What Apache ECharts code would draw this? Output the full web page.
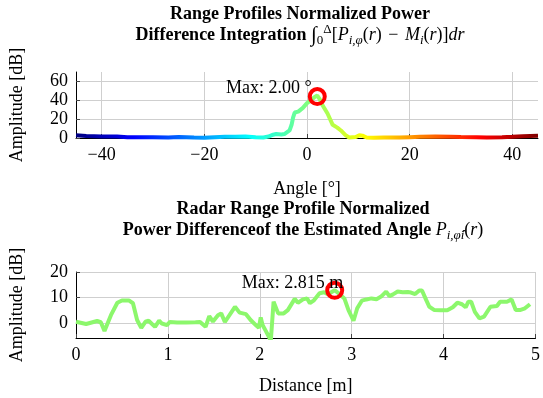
<!DOCTYPE html>
<html>
<head>
<meta charset="utf-8">
<script src="https://cdn.jsdelivr.net/npm/echarts@6/dist/echarts.min.js"></script>
<style>
  html, body { margin: 0; padding: 0; background: #fff; }
  #chart { width: 543px; height: 398px; }
</style>
</head>
<body>
<div id="chart"></div>
<script>
// top panel: integrated power difference vs. angle
const angles = [-45, -43, -40, -37, -35, -32, -30, -27, -25, -22, -20, -18, -16, -14, -12, -10, -8.5, -7.5, -6.6, -6, -5, -4.4, -3.4, -3, -2.7, -2.4, -1.7, -0.8, 0, 1, 1.5, 2, 2.5, 3, 4, 5, 5.9, 6.6, 7.5, 8.2, 9.5, 10.2, 10.8, 11.6, 13, 15, 18, 20, 22, 25, 28, 30, 33, 35, 38, 40, 42, 45]
const angleAmp = [2.8, 2.2, 1.6, 1.5, 0.9, 0.7, 0.8, 0.5, 1.0, 0.5, 0.3, 0.9, 1.3, 1.2, 1.5, 0.8, 0.6, 1.5, 3.5, 4.2, 3.8, 4.2, 8, 14, 22, 27, 28, 32, 37, 41, 43.5, 45, 41, 35, 26, 14, 11, 8, 3, 0.5, 1, 3, 2.5, 0.5, 0.3, 0.6, 0.5, 0.9, 1.3, 1.6, 1.4, 1.1, 0.8, 0.6, 0.9, 1.3, 1.9, 2.4]
const angleMax = [2, 44]

// bottom panel: range profile at the estimated angle
const dist = [0, 0.11, 0.23, 0.27, 0.31, 0.38, 0.45, 0.5, 0.575, 0.62, 0.665, 0.71, 0.755, 0.79, 0.86, 0.905, 0.935, 0.99, 1.02, 1.1, 1.2, 1.3, 1.35, 1.41, 1.45, 1.49, 1.545, 1.58, 1.62, 1.73, 1.78, 1.85, 1.9, 1.965, 1.99, 2.01, 2.03, 2.065, 2.12, 2.15, 2.2, 2.26, 2.305, 2.38, 2.415, 2.47, 2.515, 2.545, 2.585, 2.65, 2.7, 2.74, 2.815, 2.855, 2.92, 2.965, 3.02, 3.06, 3.11, 3.16, 3.215, 3.27, 3.32, 3.375, 3.41, 3.45, 3.5, 3.555, 3.61, 3.645, 3.69, 3.735, 3.765, 3.81, 3.845, 3.9, 3.97, 4.04, 4.1, 4.15, 4.2, 4.24, 4.27, 4.3, 4.34, 4.39, 4.44, 4.51, 4.58, 4.615, 4.69, 4.74, 4.785, 4.83, 4.885, 4.94]
const distAmp = [0.4, -0.5, 0.7, 0.2, -3.2, 3, 7.9, 8.8, 8.8, 7.7, 1.1, -2, 0.4, 0.8, -1.6, 0.8, -0.3, -0.9, 0.3, 0.1, 0.1, 0.2, 0.3, -1.6, 2.6, 0.5, 3, 3.7, 0.3, 6.3, 4, 3.4, 1.1, -1.2, -2, 2.1, -0.9, -3.2, -7, 8.3, 3.7, 3.7, 5, 9.4, 7.9, 9.2, 9.6, 7.7, 8.7, 11.6, 12, 11.2, 12.8, 11.7, 9.6, 5, 0.8, 5.7, 8.7, 9.2, 9.6, 9.3, 10.3, 12.3, 10.5, 11.2, 12.3, 12, 12.1, 11.9, 11.3, 12.7, 12.7, 9, 6.3, 5, 4.9, 4.9, 6.1, 7.9, 7.3, 6.1, 8.3, 8.3, 4.3, 1.7, 2.4, 6.3, 6.6, 8.3, 8.3, 9.2, 5, 5, 5.7, 7.3]
const distMax = [2.815, 12.8]

const jet = ['#00007f', '#0000ff', '#007fff', '#00ffff', '#7fff7f', '#ffff00', '#ff7f00', '#ff0000', '#7f0000']
const serif = '"Liberation Serif", "DejaVu Serif", serif'
const fs = 18

function pairs(xs, ys) {
  return xs.map((x, i) => [x, ys[i]])
}
function minus(v) {
  return String(v).replace('-', '\u2212')
}
function labelOpt(extra) {
  return Object.assign({ color: '#000', fontFamily: serif, fontSize: fs, margin: 8, formatter: minus }, extra)
}
function gridLines(extra) {
  return Object.assign({ show: true, lineStyle: { color: '#cfcfcf', width: 1 } }, extra)
}

function xAxisOpt(grid, min, max, extra) {
  return Object.assign({
    type: 'value', gridIndex: grid, min: min, max: max,
    nameLocation: 'middle',
    nameTextStyle: { fontFamily: serif, fontSize: fs, color: '#000' },
    axisLine: { onZero: false, lineStyle: { color: '#000', width: 1 } },
    axisTick: { inside: true, length: 4, lineStyle: { color: '#444' } },
    splitLine: gridLines({}),
    axisLabel: labelOpt({})
  }, extra)
}
function yAxisOpt(grid, min, max, extra) {
  return Object.assign({
    type: 'value', gridIndex: grid, min: min, max: max,
    name: 'Amplitude [dB]', nameLocation: 'middle', nameGap: 50,
    nameTextStyle: { fontFamily: serif, fontSize: fs, color: '#000' },
    axisLine: { show: true, onZero: false, lineStyle: { color: '#000', width: 1 } },
    axisTick: { show: true, inside: true, length: 4, lineStyle: { color: '#444' } },
    splitLine: gridLines({ showMinLine: false }),
    axisLabel: labelOpt({})
  }, extra)
}

const mathRich = {
  b: { fontFamily: serif, fontWeight: 'bold', fontSize: fs, lineHeight: 24 },
  n: { fontFamily: serif, fontSize: fs, lineHeight: 24 },
  i: { fontFamily: serif, fontStyle: 'italic', fontSize: fs, lineHeight: 24 },
  big: { fontFamily: serif, fontSize: 21, lineHeight: 24 },
  sp: { fontFamily: serif, fontSize: 8, lineHeight: 24 },
  sub: { fontFamily: serif, fontStyle: 'italic', fontSize: 13, lineHeight: 12, verticalAlign: 'bottom' },
  subn: { fontFamily: serif, fontSize: 13, lineHeight: 12, verticalAlign: 'bottom' },
  sup: { fontFamily: serif, fontSize: 13, lineHeight: 12, verticalAlign: 'top' }
}

function titleText(x, y, text) {
  return {
    type: 'text', x: x, y: y, silent: true,
    style: { text: text, align: 'center', verticalAlign: 'middle', fill: '#000', rich: mathRich,
      font: 'bold ' + fs + 'px ' + serif }
  }
}

const markStyle = {
  symbol: 'circle', symbolSize: 15,
  itemStyle: { color: 'rgba(0,0,0,0)', borderColor: '#ff0000', borderWidth: 4 }
}

let myChart = echarts.init(document.getElementById('chart'), null, { renderer: 'canvas' })
let option = {
  animation: false,
  backgroundColor: '#fff',
  graphic: [
    titleText(300, 14, '{b|Range Profiles Normalized Power}'),
    titleText(300, 35, '{b|Difference Integration }{big|\u222B}{subn|0}{sup|\u0394}{n|[}{i|P}{sub|i,\u03C6}{n|(}{i|r}{n|)}{sp| }{n| \u2212 }{sp| }{i|M}{sub|i}{n|(}{i|r}{n|)]}{i|dr}'),
    titleText(303, 209, '{b|Radar Range Profile Normalized}'),
    titleText(303, 230, '{b|Power Differenceof the Estimated Angle }{i|P}{sub|i,\u03C6\u0302}{sub|i}{n|(}{i|r}{n|)}')
  ],
  grid: [
    { left: 73, right: 5, top: 72, height: 66 },
    { left: 73, right: 5, top: 272, height: 66 }
  ],
  visualMap: [{
    type: 'continuous', show: false, seriesIndex: 0, dimension: 0,
    min: -45, max: 45, inRange: { color: jet }
  }],
  xAxis: [
    xAxisOpt(0, -45, 45, {
      splitNumber: 5, name: 'Angle [\u00B0]', nameGap: 42,
      splitLine: gridLines({ showMinLine: false, showMaxLine: false }),
      axisLabel: labelOpt({ showMinLabel: false, showMaxLabel: false })
    }),
    xAxisOpt(1, 0, 5, { interval: 1, name: 'Distance [m]', nameGap: 39 })
  ],
  yAxis: [
    yAxisOpt(0, 0, 70, {
      interval: 20,
      splitLine: gridLines({ showMinLine: false, showMaxLine: false }),
      axisLabel: labelOpt({ showMaxLabel: false })
    }),
    yAxisOpt(1, -6, 20, {
      splitNumber: 3,
      axisLabel: labelOpt({ showMinLabel: false })
    })
  ],
  series: [
    {
      type: 'line', xAxisIndex: 0, yAxisIndex: 0,
      data: pairs(angles, angleAmp),
      showSymbol: false, lineStyle: { width: 4 },
      markPoint: Object.assign({}, markStyle, {
        label: { show: true, formatter: 'Max: 2.00 \u00B0', position: [4, 1], align: 'right', verticalAlign: 'middle',
          color: '#000', fontFamily: serif, fontSize: fs },
        data: [{ coord: angleMax }]
      })
    },
    {
      type: 'line', xAxisIndex: 1, yAxisIndex: 1,
      data: pairs(dist, distAmp),
      showSymbol: false, color: '#8cf76c', lineStyle: { width: 4, color: '#8cf76c' },
      markPoint: Object.assign({}, markStyle, {
        label: { show: true, formatter: 'Max: 2.815 m', position: [18, 2], align: 'right', verticalAlign: 'middle',
          color: '#000', fontFamily: serif, fontSize: fs },
        data: [{ coord: distMax }]
      })
    }
  ]
}
myChart.setOption(option)
</script>
</body>
</html>
